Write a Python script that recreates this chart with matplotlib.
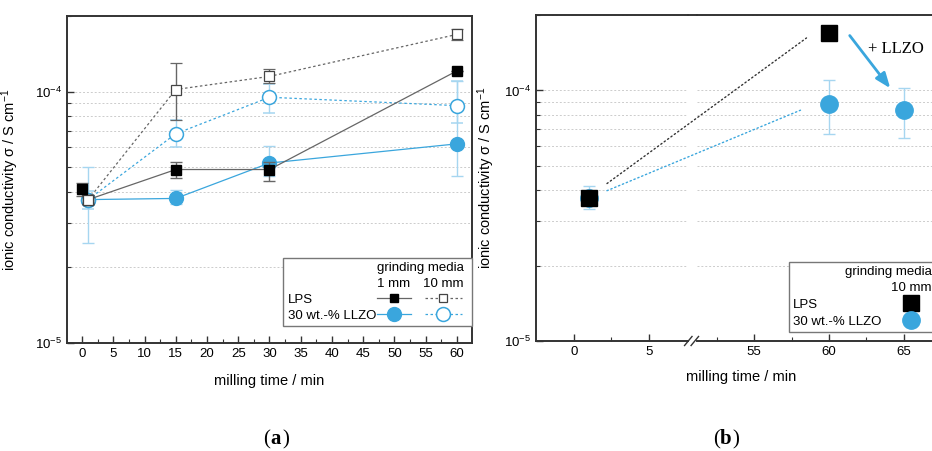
import numpy as np
import matplotlib.pyplot as plt
from matplotlib.lines import Line2D
from matplotlib.patches import ConnectionPatch
from matplotlib.ticker import MultipleLocator, LogLocator, NullFormatter
from matplotlib.offsetbox import AnchoredOffsetbox, VPacker, HPacker, TextArea, DrawingArea

plt.rcParams['font.family'] = ['Liberation Sans', 'DejaVu Sans']
plt.rcParams['mathtext.fontset'] = 'custom'
plt.rcParams['mathtext.rm'] = 'Liberation Sans'
plt.rcParams['mathtext.it'] = 'Liberation Sans:italic'

# ---- data panel (a) ----
t_pristine = [0]
lps_pristine = [4.1e-5]
lps_pristine_err = [0.25e-5]

t = [1, 15, 30, 60]
lps_1mm = [3.72e-5, 4.9e-5, 4.9e-5, 1.21e-4]
lps_1mm_lo = [0.15e-5, 0.35e-5, 0.5e-5, 0.0]
lps_1mm_hi = [0.15e-5, 0.35e-5, 0.35e-5, 0.0]

llzo_1mm = [3.72e-5, 3.76e-5, 5.2e-5, 6.2e-5]
llzo_1mm_lo = [1.22e-5, 0.2e-5, 0.6e-5, 1.6e-5]
llzo_1mm_hi = [1.28e-5, 0.3e-5, 0.9e-5, 4.8e-5]

lps_10mm = [3.72e-5, 1.02e-4, 1.15e-4, 1.69e-4]
lps_10mm_lo = [0.15e-5, 2.5e-5, 0.7e-5, 0.8e-5]
lps_10mm_hi = [0.15e-5, 2.8e-5, 0.8e-5, 0.9e-5]

llzo_10mm = [3.72e-5, 6.8e-5, 9.5e-5, 8.8e-5]
llzo_10mm_lo = [0.3e-5, 0.8e-5, 1.3e-5, 1.3e-5]
llzo_10mm_hi = [0.3e-5, 0.9e-5, 1.2e-5, 2.2e-5]

# ---- data panel (b) ----
tb_lps = [1, 60]
b_lps = [3.71e-5, 1.70e-4]
tb_llzo = [1, 60, 65]
b_llzo = [3.71e-5, 8.85e-5, 8.34e-5]
b_llzo_lo = [0.35e-5, 2.15e-5, 1.9e-5]
b_llzo_hi = [0.45e-5, 2.15e-5, 1.9e-5]

BLUE = '#3aa6dd'
LBLUE = '#a6d6f0'
GREY = '#666666'
SPINE = '#333333'
FS = 9.5

fig = plt.figure(figsize=(9.32, 4.51), dpi=100)


def style_axes(ax):
    ax.set_yscale('log')
    ax.set_ylim(1e-5, 2e-4)
    ax.yaxis.set_major_locator(LogLocator(base=10, numticks=5))
    ax.yaxis.set_minor_locator(LogLocator(base=10, subs=np.arange(2, 10), numticks=10))
    ax.yaxis.set_minor_formatter(NullFormatter())
    ax.grid(axis='y', which='both', color='#cccccc', linestyle=(0, (2, 2)), linewidth=0.7)
    ax.set_axisbelow(True)
    ax.tick_params(which='both', direction='in', colors=SPINE, labelcolor='black', labelsize=FS)
    ax.tick_params(which='major', length=5, width=1)
    ax.tick_params(which='minor', length=3, width=0.8)
    ax.tick_params(axis='y', which='both', right=False)
    ax.tick_params(axis='x', which='both', top=False)
    for s in ax.spines.values():
        s.set_color(SPINE)
        s.set_linewidth(1.4)


def txt(s):
    return TextArea(s, textprops=dict(fontsize=FS))


def handle(w, line_kw, marker_kw, h=8.6):
    da = DrawingArea(w, h, 0, 0)
    if line_kw is not None:
        da.add_artist(Line2D([0, w], [h * 0.62, h * 0.62], **line_kw))
    da.add_artist(Line2D([w / 2], [h * 0.62], ls='none', **marker_kw))
    return da


def framed(child, anchor, transform):
    box = AnchoredOffsetbox(loc='lower right', child=child, pad=0.3, borderpad=0,
                            frameon=True, bbox_to_anchor=anchor, bbox_transform=transform)
    box.patch.set_edgecolor('#777777')
    box.patch.set_linewidth(1)
    return box


# ================= panel (a) =================
ax = fig.add_axes([0.0719, 0.2395, 0.4345, 0.725])
style_axes(ax)
ax.set_xlim(-2.4, 62.4)
ax.xaxis.set_major_locator(MultipleLocator(5))
ax.xaxis.set_minor_locator(MultipleLocator(2.5))

ax.errorbar(t, llzo_1mm, yerr=[llzo_1mm_lo, llzo_1mm_hi], color=BLUE, ecolor=LBLUE,
            lw=0.9, elinewidth=1, capsize=4, marker='o', ms=10, mec=BLUE, zorder=3)
ax.errorbar(t, llzo_10mm, yerr=[llzo_10mm_lo, llzo_10mm_hi], color=BLUE, ecolor=LBLUE,
            lw=0.9, ls=(0, (2, 2)), elinewidth=1, capsize=4, marker='o', ms=10, mfc='white',
            mec=BLUE, mew=1.1, zorder=3)
ax.errorbar(t, lps_1mm, yerr=[lps_1mm_lo, lps_1mm_hi], color=GREY, ecolor=GREY,
            lw=0.9, elinewidth=1, capsize=4, marker='s', ms=6.5, mfc='black', mec='black', zorder=4)
ax.errorbar(t, lps_10mm, yerr=[lps_10mm_lo, lps_10mm_hi], color=GREY, ecolor=GREY,
            lw=0.9, ls=(0, (2, 2)), elinewidth=1, capsize=4, marker='s', ms=6.5, mfc='white',
            mec='#444444', mew=0.9, zorder=4)
ax.errorbar(t_pristine, lps_pristine, yerr=lps_pristine_err, color='black', ecolor=GREY,
            ls='none', elinewidth=1, capsize=4, marker='s', ms=6.5, zorder=4)

ax.set_xlabel('milling time / min', fontsize=10.5, labelpad=10)
ax.set_ylabel('ionic conductivity σ / S cm$^{-1}$', fontsize=10.5, labelpad=10)

solid_grey = dict(color=GREY, lw=0.9)
dash_grey = dict(color=GREY, lw=0.9, ls=(0, (2, 2)))
solid_blue = dict(color=BLUE, lw=0.9)
dash_blue = dict(color=BLUE, lw=0.9, ls=(0, (2, 2)))
SEP = 2.9
col_a = VPacker(children=[txt(' '), txt('LPS'), txt('30 wt.-% LLZO')], align='left', pad=0, sep=SEP)
col_b = VPacker(children=[txt('1 mm'),
                          handle(24, solid_grey, dict(marker='s', ms=6, color='black')),
                          handle(24, solid_blue, dict(marker='o', ms=10, color=BLUE))],
                align='center', pad=0, sep=SEP)
col_c = VPacker(children=[txt('10 mm'),
                          handle(27, dash_grey, dict(marker='s', ms=6, mfc='white', mec='#444444', mew=0.9)),
                          handle(27, dash_blue, dict(marker='o', ms=10, mfc='white', mec=BLUE, mew=1.1))],
                align='center', pad=0, sep=SEP)
grid_a = HPacker(children=[col_a, HPacker(children=[col_b, col_c], align='top', pad=0, sep=9)],
                 align='top', pad=0, sep=1)
leg_a = VPacker(children=[txt('grinding media'), grid_a], align='right', pad=0, sep=SEP)
leg_a = HPacker(children=[leg_a, DrawingArea(3, 1, 0, 0)], align='top', pad=0, sep=0)
ax.add_artist(framed(leg_a, (1.0, 0.052), ax.transAxes))

# ================= panel (b) =================
ax1 = fig.add_axes([0.5751, 0.2439, 0.1631, 0.7228])
ax2 = fig.add_axes([0.7479, 0.2439, 0.2714, 0.7228])
for a in (ax1, ax2):
    style_axes(a)
ax1.set_xlim(-2.53, 7.6)
ax2.set_xlim(51.2, 68.07)
for a in (ax1, ax2):
    a.xaxis.set_major_locator(MultipleLocator(5))
    a.xaxis.set_minor_locator(MultipleLocator(2.5))
ax1.spines['right'].set_visible(False)
ax2.spines['left'].set_visible(False)
ax2.spines['right'].set_visible(False)
ax2.tick_params(axis='y', which='both', left=False, labelleft=False)
ax1.set_xticks([0, 5])
ax1.set_xticks([2.5], minor=True)

ax1.errorbar(tb_llzo[:1], b_llzo[:1], yerr=[b_llzo_lo[:1], b_llzo_hi[:1]], ls='none',
             color=BLUE, ecolor=LBLUE, elinewidth=1, capsize=4, marker='o', ms=12.5, zorder=3)
ax2.errorbar(tb_llzo[1:], b_llzo[1:], yerr=[b_llzo_lo[1:], b_llzo_hi[1:]], ls='none',
             color=BLUE, ecolor=LBLUE, elinewidth=1, capsize=4, marker='o', ms=12.5, zorder=3)
ax1.plot(tb_lps[:1], b_lps[:1], ls='none', marker='s', ms=11, color='black', zorder=4)
ax2.plot(tb_lps[1:], b_lps[1:], ls='none', marker='s', ms=11, color='black', zorder=4)

# guide lines across the break
for (xa, ya, xb, yb, c) in ((2.2, 4.25e-5, 58.5, 1.62e-4, '#333333'),
                            (2.2, 3.98e-5, 58.1, 8.34e-5, BLUE)):
    con = ConnectionPatch((xa, ya), (xb, yb), coordsA=ax1.transData, coordsB=ax2.transData,
                          color=c, lw=1, ls=(0, (1, 2)))
    fig.add_artist(con)

ax2.annotate('', xy=(64.2, 1.0e-4), xytext=(61.27, 1.69e-4),
             arrowprops=dict(arrowstyle='-|>,head_length=0.9,head_width=0.35', color=BLUE, lw=2))
ax2.text(62.6, 1.47e-4, '+ LLZO', family=['Liberation Serif', 'DejaVu Serif'], fontsize=12,
         va='center', ha='left')

# top spine over the gap and break marks at the bottom
fig.add_artist(Line2D([0.7382, 0.7479], [0.9667, 0.9667], transform=fig.transFigure,
                      color=SPINE, lw=1.4))
for xm in (0.7385, 0.7455):
    fig.add_artist(Line2D([xm - 0.004, xm + 0.004], [0.2339, 0.2539], transform=fig.transFigure,
                          color=SPINE, lw=1))

ax1.set_ylabel('ionic conductivity σ / S cm$^{-1}$', fontsize=10.5, labelpad=5)
fig.text(0.795, 0.155, 'milling time / min', fontsize=10.5, ha='center')

col_ba = VPacker(children=[txt(' '), txt('LPS'), txt('30 wt.-% LLZO')], align='left', pad=0, sep=3.6)
col_bb = VPacker(children=[txt('10 mm'),
                           handle(20, None, dict(marker='s', ms=11, color='black')),
                           handle(20, None, dict(marker='o', ms=12.5, color=BLUE))],
                 align='center', pad=0, sep=3.6)
grid_b = HPacker(children=[col_ba, col_bb], align='top', pad=0, sep=7)
leg_b = VPacker(children=[txt('grinding media'), grid_b], align='right', pad=0, sep=2.5)
fig.add_artist(framed(leg_b, (1.004, 0.2639), fig.transFigure))

# panel labels
for xl, lab in ((0.29, 'a'), (0.7725, 'b')):
    fig.text(xl, 0.015, '(', family=['Liberation Serif'], fontsize=15, ha='right')
    fig.text(xl, 0.015, lab, family=['Liberation Serif'], fontsize=15, weight='bold', ha='left')
    fig.text(xl + 0.0135, 0.015, ')', family=['Liberation Serif'], fontsize=15, ha='left')

fig.savefig('out.png', dpi=100)
